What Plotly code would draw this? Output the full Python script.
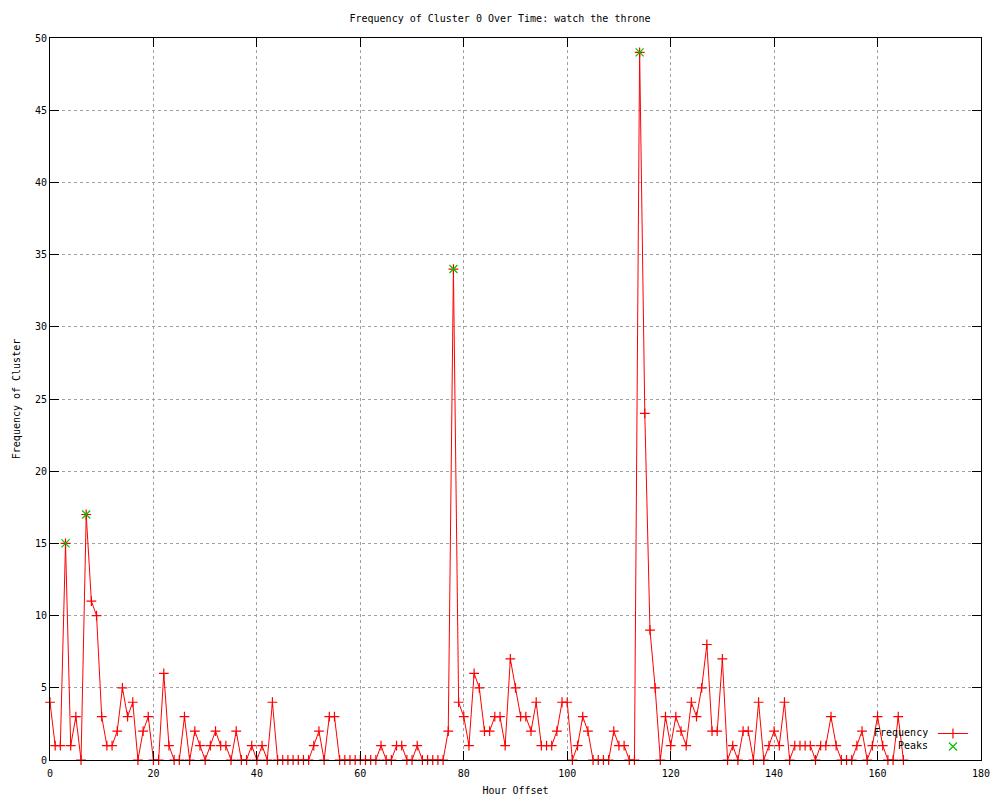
import plotly.graph_objects as go

frequency = [
    4, 1, 1, 15, 1, 3, 0, 17, 11, 10,      # 0-9
    3, 1, 1, 2, 5, 3, 4, 0, 2, 3,          # 10-19
    0, 0, 6, 1, 0, 0, 3, 0, 2, 1,          # 20-29
    0, 1, 2, 1, 1, 0, 2, 0, 0, 1,          # 30-39
    0, 1, 0, 4, 0, 0, 0, 0, 0, 0,          # 40-49
    0, 1, 2, 0, 3, 3, 0, 0, 0, 0,          # 50-59
    0, 0, 0, 0, 1, 0, 0, 1, 1, 0,          # 60-69
    0, 1, 0, 0, 0, 0, 0, 2, 34, 4,         # 70-79
    3, 1, 6, 5, 2, 2, 3, 3, 1, 7,          # 80-89
    5, 3, 3, 2, 4, 1, 1, 1, 2, 4,          # 90-99
    4, 0, 1, 3, 2, 0, 0, 0, 0, 2,          # 100-109
    1, 1, 0, 0, 49, 24, 9, 5, 0, 3,        # 110-119
    1, 3, 2, 1, 4, 3, 5, 8, 2, 2,          # 120-129
    7, 0, 1, 0, 2, 2, 0, 4, 0, 1,          # 130-139
    2, 1, 4, 0, 1, 1, 1, 1, 0, 1,          # 140-149
    1, 3, 1, 0, 0, 0, 1, 2, 0, 1,          # 150-159
    3, 1, 0, 0, 3, 0,                      # 160-165
]
hours = list(range(len(frequency)))

peak_hours = [3, 7, 78, 114]
peak_values = [15, 17, 34, 49]

series_names = ["Frequency", "Peaks"]

x_ticks = [0, 20, 40, 60, 80, 100, 120, 140, 160, 180]
y_ticks = [0, 5, 10, 15, 20, 25, 30, 35, 40, 45, 50]

FONT = "DejaVu Sans Mono"

fig = go.Figure()
fig.add_trace(go.Scatter(
    x=hours, y=frequency, mode="lines+markers", name=" ", legend="legend",
    line=dict(color="#ff0000", width=1),
    marker=dict(symbol="cross-thin", size=7, line=dict(color="#ff0000", width=1.2)),
    cliponaxis=False,
))
fig.add_trace(go.Scatter(
    x=peak_hours, y=peak_values, mode="markers", name=" ", legend="legend2",
    marker=dict(symbol="x-thin", size=8, line=dict(color="#00c000", width=1.2)),
    cliponaxis=False,
))

axis_common = dict(
    showline=True, linecolor="black", linewidth=1, mirror="ticks",
    ticks="inside", ticklen=9, tickcolor="black", tickwidth=1,
    showgrid=True, gridcolor="#a0a0a0", griddash="dot", gridwidth=1,
    zeroline=False, automargin=False,
    tickfont=dict(family=FONT, size=10, color="black"),
)

# legend labels drawn gnuplot-style (text to the left of the sample)
for name, ypos in zip(series_names, [0.0374, 0.0194]):
    fig.add_annotation(text=name, xref="paper", yref="paper", x=0.9452, y=ypos,
                       xanchor="right", yanchor="middle", showarrow=False,
                       font=dict(family=FONT, size=10, color="black"))

legend_common = dict(xanchor="left", yanchor="top", bgcolor="rgba(0,0,0,0)",
                     borderwidth=0, font=dict(family=FONT, size=6, color="black"),
                     itemwidth=30, itemclick=False, itemdoubleclick=False)

fig.update_layout(
    width=1000, height=800,
    paper_bgcolor="white", plot_bgcolor="white",
    margin=dict(l=50, r=19, t=38, b=40),
    font=dict(family=FONT, size=10, color="black"),
    title=dict(text="Frequency of Cluster 0 Over Time: watch the throne",
               x=0.5, xanchor="center", y=0.977, yanchor="middle",
               font=dict(family=FONT, size=10, color="black")),
    xaxis=dict(range=[0, 180], tickvals=x_ticks, ticktext=[str(v) for v in x_ticks],
               ticklabelstandoff=4,
               title=dict(text="Hour Offset", standoff=8, font=dict(family=FONT, size=10)),
               **axis_common),
    yaxis=dict(range=[0, 50], tickvals=y_ticks, ticktext=[str(v) for v in y_ticks],
               title=dict(text="Frequency of Cluster", standoff=12, font=dict(family=FONT, size=10)),
               **axis_common),
    legend=dict(x=0.9484, y=0.0568, **legend_common),
    legend2=dict(x=0.9484, y=0.0388, **legend_common),
    showlegend=True,
)

fig.write_html("out.html", config={"displayModeBar": False},
               post_script="document.body.style.margin='0';document.body.style.padding='0';")
